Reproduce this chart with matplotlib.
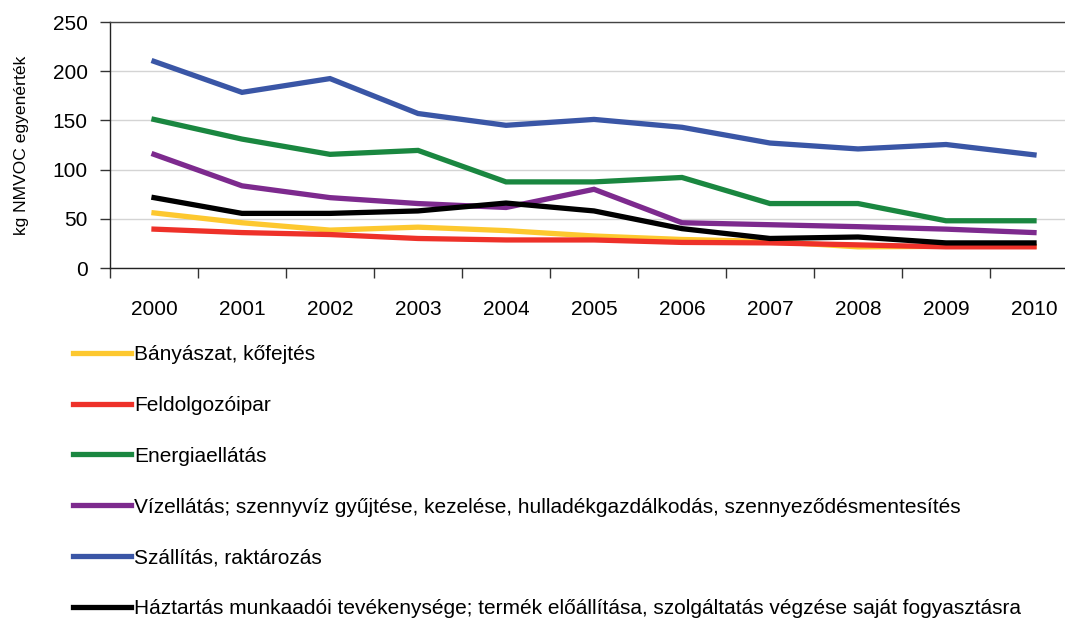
import matplotlib
matplotlib.use("Agg")
import matplotlib.pyplot as plt
import numpy as np

plt.rcParams['font.family'] = ['Liberation Sans', 'DejaVu Sans']

years = ['2000', '2001', '2002', '2003', '2004', '2005', '2006', '2007', '2008', '2009', '2010']

banyaszat = [56, 46, 38.5, 41.5, 38, 32.5, 29, 27, 21.5, 22, 22]
feldolgozoipar = [39.5, 36, 34, 30, 28.5, 28.5, 26, 25.5, 23.5, 21.5, 21.5]
energia = [151, 131, 115.5, 119.5, 87.5, 87.5, 92, 65.5, 65.5, 48, 48]
vizellatas = [115.5, 83.5, 71.5, 65.5, 61.5, 80, 46, 44, 42, 39.5, 36]
szallitas = [210, 178.5, 192.5, 157, 145, 151, 143, 127, 121, 125.5, 115]
haztartas = [71.5, 55.5, 55.5, 58, 66, 58, 40, 30, 31.5, 25.5, 25.5]

labels = [
    'Bányászat, kőfejtés',
    'Feldolgozóipar',
    'Energiaellátás',
    'Vízellátás; szennyvíz gyűjtése, kezelése, hulladékgazdálkodás, szennyeződésmentesítés',
    'Szállítás, raktározás',
    'Háztartás munkaadói tevékenysége; termék előállítása, szolgáltatás végzése saját fogyasztásra',
]
series = [banyaszat, feldolgozoipar, energia, vizellatas, szallitas, haztartas]
colors = ['#FDC82F', '#EE3129', '#1A8740', '#7D2A8E', '#3A56A6', '#000000']

W, H = 1065, 619
fig = plt.figure(figsize=(W / 100, H / 100), dpi=100)
left, right, top, bottom = 110, 1078, 22, 268
ax = fig.add_axes([left / W, 1 - bottom / H, (right - left) / W, (bottom - top) / H])

x = np.arange(len(years))
for vals, lab, col in zip(series, labels, colors):
    ax.plot(x, vals, color=col, linewidth=3.8, label=lab, solid_joinstyle='miter')

ax.set_xlim(-0.5, len(years) - 0.5)
ax.set_ylim(0, 250)
ax.set_yticks([0, 50, 100, 150, 200, 250])
ax.set_xticks(x)
ax.set_xticklabels(years)
ax.set_xticks(np.arange(-0.5, len(years), 1.0), minor=True)
ax.tick_params(axis='x', which='major', length=0, pad=23, labelsize=15)
ax.tick_params(axis='x', which='minor', length=7, width=1, color='#333333', direction='out')
ax.tick_params(axis='y', which='major', length=7, width=1, color='#333333', pad=9, labelsize=15)

ax.grid(axis='y', color='#d4d4d4', linewidth=1)
ax.set_axisbelow(True)
for s in ['left', 'bottom']:
    ax.spines[s].set_color('#222222')
    ax.spines[s].set_linewidth(1)
ax.spines['top'].set_color('#444444')
ax.spines['top'].set_linewidth(1)
ax.spines['right'].set_visible(False)

ax.set_ylabel('kg NMVOC egyenérték', fontsize=12.6)
ax.yaxis.set_label_coords(-0.084, 0.5)

handles, labs = ax.get_legend_handles_labels()
leg = fig.legend(handles, labs, loc='upper left', bbox_to_anchor=(73 / W, 1 - 345 / H),
                 frameon=False, fontsize=15, handlelength=2.8, handletextpad=0.15,
                 labelspacing=1.53, borderpad=0, borderaxespad=0)
for l in leg.get_lines():
    l.set_linewidth(3.8)

fig.savefig('out.png', dpi=100)
